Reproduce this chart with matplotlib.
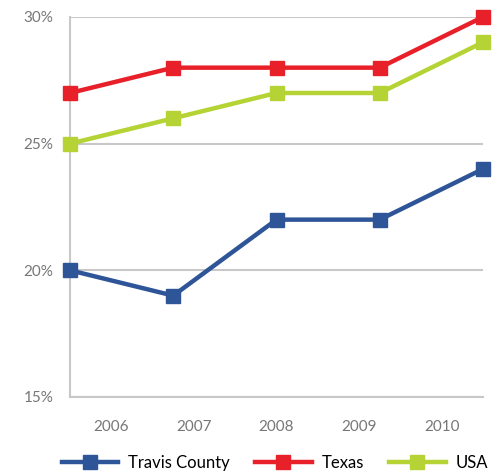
import matplotlib.pyplot as plt
import numpy as np

# Data
years = ['2006', '2007', '2008', '2009', '2010']
travis = [20, 19, 22, 22, 24]
texas = [27, 28, 28, 28, 30]
usa = [25, 26, 27, 27, 29]
yticks = [15, 20, 25, 30]

plt.rcParams['font.family'] = ['Lato', 'DejaVu Sans']

fig = plt.figure(figsize=(5, 4.72), dpi=100)
ax = fig.add_axes([0.14, 0.159, 0.826, 0.805])

x = np.arange(len(years))
series = [(travis, '#2E5597', 'Travis County'),
          (texas, '#E8202A', 'Texas'),
          (usa, '#B5D334', 'USA')]
for vals, col, name in series:
    ax.plot(x, vals, color=col, lw=3.2, marker='s', ms=10, label=name,
            clip_on=False, zorder=3)

ax.set_xlim(0, 4)
ax.set_ylim(15, 30)
ax.set_yticks(yticks)
ax.set_yticklabels([f'{v}%' for v in yticks])
ax.grid(axis='y', color='#c8c8c8', lw=1.5)
ax.set_xticks([])
for s in ['top', 'right']:
    ax.spines[s].set_visible(False)
for s in ['left', 'bottom']:
    ax.spines[s].set_color('#c8c8c8')
    ax.spines[s].set_linewidth(1.5)
ax.tick_params(axis='y', length=0, pad=12, labelsize=11, labelcolor='#777777')

# year labels sit between the data points in the original
label_pos = np.linspace(0.4, 3.6, len(years))
for p, yr in zip(label_pos, years):
    ax.text(p, 14.1, yr, ha='center', va='top', fontsize=11, color='#777777')

fig.legend(loc='lower center', ncol=3, frameon=False, fontsize=12,
           handlelength=3.4, handletextpad=0.6, columnspacing=1.5,
           bbox_to_anchor=(0.55, -0.03))

fig.savefig('out.png', dpi=100)
